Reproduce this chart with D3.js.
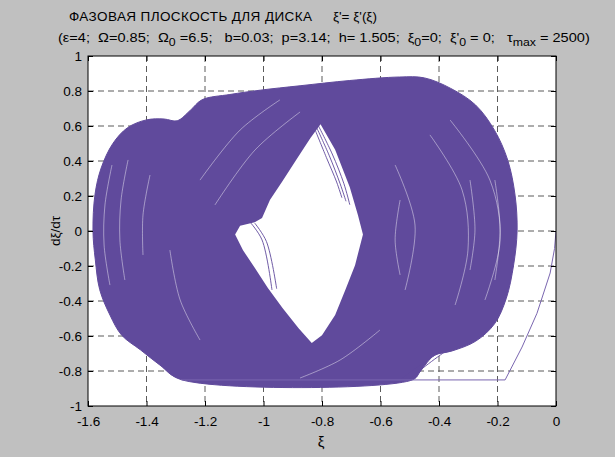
<!DOCTYPE html>
<html><head><meta charset="utf-8">
<script src="https://cdn.jsdelivr.net/npm/d3@7"></script>
<style>
html,body{margin:0;padding:0;background:#c0c0c0;}
svg{display:block;font-family:"Liberation Sans",Arial,sans-serif;}
.pre{white-space:pre;}
</style></head>
<body>
<svg id="c" width="615" height="457"></svg>
<script>
// ---- data ----
const xTicks = [-1.6,-1.4,-1.2,-1,-0.8,-0.6,-0.4,-0.2,0];
const yTicks = [-1,-0.8,-0.6,-0.4,-0.2,0,0.2,0.4,0.6,0.8,1];
const xTickLabels = ["-1.6","-1.4","-1.2","-1","-0.8","-0.6","-0.4","-0.2","0"];
const yTickLabels = ["-1","-0.8","-0.6","-0.4","-0.2","0","0.2","0.4","0.6","0.8","1"];

// outline of the densely filled phase trajectory (ξ, dξ/dτ)
const denseOutline = [
 [-1.583,0.0],[-1.576,0.21],[-1.555,0.36],[-1.515,0.5],[-1.465,0.59],[-1.40,0.635],[-1.34,0.64],
 [-1.295,0.63],[-1.25,0.69],[-1.21,0.75],[-1.115,0.78],[-1.01,0.805],[-0.875,0.83],[-0.705,0.86],
 [-0.535,0.88],[-0.45,0.875],[-0.36,0.815],[-0.275,0.72],[-0.21,0.575],[-0.165,0.405],[-0.14,0.205],
 [-0.133,0.0],[-0.145,-0.195],[-0.17,-0.385],[-0.21,-0.53],[-0.275,-0.63],[-0.355,-0.685],[-0.415,-0.71],
 [-0.44,-0.75],[-0.465,-0.805],[-0.49,-0.85],[-1.28,-0.85],[-1.355,-0.765],[-1.42,-0.68],[-1.485,-0.595],
 [-1.525,-0.48],[-1.56,-0.335],[-1.575,-0.165]
];
// empty region in the middle
const holeOutline = [
 [-0.805,0.61],[-0.755,0.465],[-0.705,0.25],[-0.677,0.09],[-0.66,-0.02],[-0.687,-0.195],[-0.72,-0.335],
 [-0.755,-0.48],[-0.8,-0.595],[-0.835,-0.64],[-0.88,-0.555],[-0.935,-0.44],[-0.985,-0.325],[-1.03,-0.21],
 [-1.07,-0.11],[-1.097,-0.02],[-1.08,0.03],[-1.03,0.05],[-1.005,0.075],[-0.978,0.177],[-0.937,0.28],
 [-0.889,0.405],[-0.84,0.53]
];
// initial transient from (0,0)
const transient = [[0,0],[-0.005,-0.1],[-0.02,-0.24],[-0.065,-0.47],[-0.116,-0.663],[-0.174,-0.851],[-1.28,-0.851]];
// separate orbit lines visible at the edges of the dense area
const fringeLines = [
 [[-0.812,0.6],[-0.765,0.44],[-0.725,0.27],[-0.705,0.15]],
 [[-0.818,0.59],[-0.775,0.43],[-0.738,0.27],[-0.718,0.17]],
 [[-0.824,0.58],[-0.785,0.42],[-0.75,0.28],[-0.732,0.19]],
 [[-1.046,0.051],[-1.005,-0.051],[-0.971,-0.337]],
 [[-1.03,0.045],[-0.99,-0.06],[-0.955,-0.33]],
 [[-0.397,-0.691],[-0.465,-0.766],[-0.533,-0.851]],
 [[-0.38,-0.69],[-0.445,-0.77],[-0.505,-0.851]]
];
// light gaps between orbits
const gapLines = [
 [[-1.518,0.377],[-1.542,0.149],[-1.545,-0.08],[-1.525,-0.309]],
 [[-1.463,0.406],[-1.487,0.177],[-1.491,-0.051],[-1.474,-0.28]],
 [[-1.388,0.32],[-1.412,0.091],[-1.412,-0.137]],
 [[-0.209,0.291],[-0.191,0.006],[-0.209,-0.28]],
 [[-0.294,0.291],[-0.277,0.006],[-0.294,-0.223]],
 [[-0.533,0.177],[-0.55,-0.051],[-0.533,-0.251]],
 [[-1.217,0.291],[-1.08,0.577],[-0.944,0.749]],
 [[-1.166,0.149],[-1.029,0.463],[-0.875,0.68]],
 [[-0.362,0.634],[-0.226,0.291],[-0.191,-0.051],[-0.243,-0.394]],
 [[-0.431,0.549],[-0.321,0.234],[-0.301,-0.109],[-0.345,-0.423]],
 [[-0.55,0.377],[-0.482,0.034],[-0.516,-0.337]],
 [[-0.602,-0.566],[-0.738,-0.737],[-0.875,-0.84]],
 [[-1.32,-0.109],[-1.285,-0.394],[-1.217,-0.623]]
];
const titleLine1 = ["ФАЗОВАЯ ПЛОСКОСТЬ ДЛЯ ДИСКА", "ξ'= ξ'(ξ)"];

// ---- layout ----
const svg = d3.select("#c");
const L = 88, R = 556, T = 56, B = 406;
const x = d3.scaleLinear().domain([-1.6,0]).range([L,R]);
const y = d3.scaleLinear().domain([-1,1]).range([B,T]);
const purple = "#604a9c";

svg.append("rect").attr("x",L).attr("y",T).attr("width",R-L).attr("height",B-T).attr("fill","#fff");

// grid
const grid = svg.append("g").attr("stroke","#333").attr("stroke-width",1).attr("stroke-dasharray","6,4").attr("opacity",0.8);
xTicks.slice(1,-1).forEach(v=>grid.append("line").attr("x1",x(v)).attr("x2",x(v)).attr("y1",T).attr("y2",B));
yTicks.slice(1,-1).forEach(v=>grid.append("line").attr("y1",y(v)).attr("y2",y(v)).attr("x1",L).attr("x2",R));

svg.append("clipPath").attr("id","pc").append("rect").attr("x",L).attr("y",T).attr("width",R-L).attr("height",B-T);
const plot = svg.append("g").attr("clip-path","url(#pc)");
const line = d3.line().x(d=>x(d[0])).y(d=>y(d[1]));
const smooth = d3.line().x(d=>x(d[0])).y(d=>y(d[1])).curve(d3.curveCatmullRom);
const closedSmooth = d3.line().x(d=>x(d[0])).y(d=>y(d[1])).curve(d3.curveCatmullRomClosed);

plot.append("path").attr("d",closedSmooth(denseOutline)).attr("fill",purple).attr("stroke",purple).attr("stroke-width",1);
plot.append("path").attr("d",line(holeOutline)+"Z").attr("fill","#fff");
gapLines.forEach(g=>plot.append("path").attr("d",smooth(g)).attr("fill","none").attr("stroke","#fff").attr("stroke-width",0.8).attr("opacity",0.55));
fringeLines.forEach(f=>plot.append("path").attr("d",smooth(f)).attr("fill","none").attr("stroke",purple).attr("stroke-width",0.9));
plot.append("path").attr("d",line(transient)).attr("fill","none").attr("stroke","#7a66b0").attr("stroke-width",1);

// box
svg.append("rect").attr("x",L).attr("y",T).attr("width",R-L).attr("height",B-T).attr("fill","none").attr("stroke","#000").attr("stroke-width",1);

// axes with inward ticks
const ax = svg.append("g").attr("transform",`translate(0,${B})`)
  .call(d3.axisBottom(x).tickValues(xTicks).tickFormat((d,i)=>xTickLabels[i]).tickSizeInner(-5).tickSizeOuter(0).tickPadding(10));
const axT = svg.append("g").attr("transform",`translate(0,${T})`)
  .call(d3.axisTop(x).tickValues(xTicks).tickFormat("").tickSizeInner(-5).tickSizeOuter(0));
const ay = svg.append("g").attr("transform",`translate(${L},0)`)
  .call(d3.axisLeft(y).tickValues(yTicks).tickFormat((d,i)=>yTickLabels[i]).tickSizeInner(-5).tickSizeOuter(0).tickPadding(6));
const ayR = svg.append("g").attr("transform",`translate(${R},0)`)
  .call(d3.axisRight(y).tickValues(yTicks).tickFormat("").tickSizeInner(-5).tickSizeOuter(0));
[ax,axT,ay,ayR].forEach(g=>{g.select(".domain").remove();g.selectAll("line").attr("stroke","#000");
  g.selectAll("text").attr("font-size",13.5).attr("fill","#000").attr("font-family","Liberation Sans, Arial, sans-serif");});

// axis labels
svg.append("text").attr("x",321).attr("y",447).attr("text-anchor","middle").attr("font-size",15).text("ξ");
svg.append("text").attr("transform","translate(60,231) rotate(-90)").attr("text-anchor","middle").attr("font-size",13.5).text("dξ/dτ");

// title
svg.append("text").attr("x",69).attr("y",21).attr("font-size",13.5).attr("textLength",243).attr("lengthAdjust","spacing").text(titleLine1[0]);
svg.append("text").attr("x",333).attr("y",21).attr("font-size",13.5).text(titleLine1[1]);
const t2 = svg.append("text").attr("class","pre").attr("x",58).attr("y",42).attr("font-size",13);
const parts = [["(ε=4;  Ω=0.85;  Ω",""],["0","sub"],[" =6.5;   b=0.03;  p=3.14;  h= 1.505;  ξ",""],["0","sub"],["=0;  ξ'",""],["0","sub"],[" = 0;   τ",""],["max","sub"],[" = 2500)",""]];
parts.forEach((p,i)=>{
  const s = t2.append("tspan").text(p[0]);
  if(p[1]==="sub"){ s.attr("dy",4).attr("font-size",11); }
  else if(i>0){ s.attr("dy",-4); }
});
// fit line 2 to the width it has in the reference
const w = t2.node().getComputedTextLength();
const target = 532;
if (w > 0) t2.attr("transform",`translate(58,42) scale(${target/w},1) translate(-58,-42)`);
</script>
</body></html>
